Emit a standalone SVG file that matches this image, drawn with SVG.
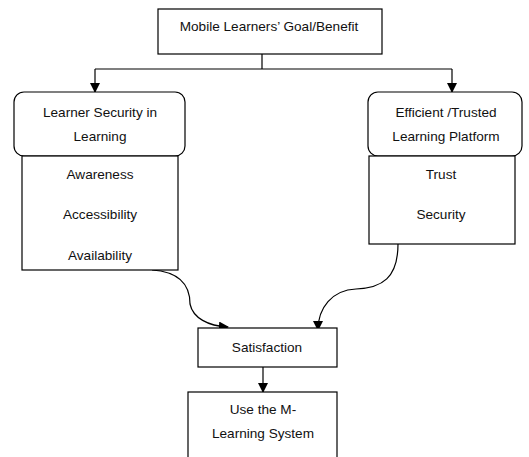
<svg xmlns="http://www.w3.org/2000/svg" width="529" height="457" viewBox="0 0 529 457">
<defs>
<style>
.box{fill:#fff;stroke:#000;stroke-width:1.2}
.t{font-family:"Liberation Sans",Arial,sans-serif;font-size:13.6px;fill:#111;text-anchor:middle}
.c{fill:none;stroke:#000;stroke-width:1.2}
</style>
<marker id="ah" markerWidth="10" markerHeight="10" refX="9" refY="5" orient="auto" markerUnits="userSpaceOnUse">
<path d="M0,0 L10,5 L0,10 Z" fill="#000"/>
</marker>
</defs>
<rect width="529" height="457" fill="#fff"/>
<g id="connectors">
<path class="c" d="M262,54 V69 M95,69 H452"/>
<path class="c" d="M95,69 V92" marker-end="url(#ah)"/>
<path class="c" d="M452,69 V92" marker-end="url(#ah)"/>
<path class="c" d="M152,270 C182,272 190,288 190,304 C193,318 208,326 228,327" marker-end="url(#ah)"/>
<path class="c" d="M398,244 C398,278 382,288 356,289 C332,290 318,308 318,330" marker-end="url(#ah)"/>
<path class="c" d="M263,367 V392" marker-end="url(#ah)"/>
</g>
<g id="goal">
<rect class="box" x="158" y="9" width="224" height="45"/>
<text class="t" x="269" y="31">Mobile Learners’ Goal/Benefit</text>
</g>
<g id="learner-security">
<rect class="box" x="14" y="92" width="171" height="64" rx="10"/>
<text class="t" x="100" y="117">Learner Security in</text>
<text class="t" x="100" y="141">Learning</text>
</g>
<g id="security-factors">
<rect class="box" x="22" y="156" width="156" height="114"/>
<text class="t" x="100" y="179">Awareness</text>
<text class="t" x="100" y="219">Accessibility</text>
<text class="t" x="100" y="260">Availability</text>
</g>
<g id="platform">
<rect class="box" x="368" y="92" width="154" height="64" rx="10"/>
<text class="t" x="446" y="117">Efficient /Trusted</text>
<text class="t" x="446" y="141">Learning Platform</text>
</g>
<g id="platform-factors">
<rect class="box" x="369" y="156" width="146" height="88"/>
<text class="t" x="441" y="179">Trust</text>
<text class="t" x="441" y="219">Security</text>
</g>
<g id="satisfaction">
<rect class="box" x="198" y="328" width="139" height="39"/>
<text class="t" x="267" y="352">Satisfaction</text>
</g>
<g id="use-system">
<rect class="box" x="188" y="392" width="149" height="80"/>
<text class="t" x="263" y="414">Use the M-</text>
<text class="t" x="263" y="438">Learning System</text>
</g>
</svg>
